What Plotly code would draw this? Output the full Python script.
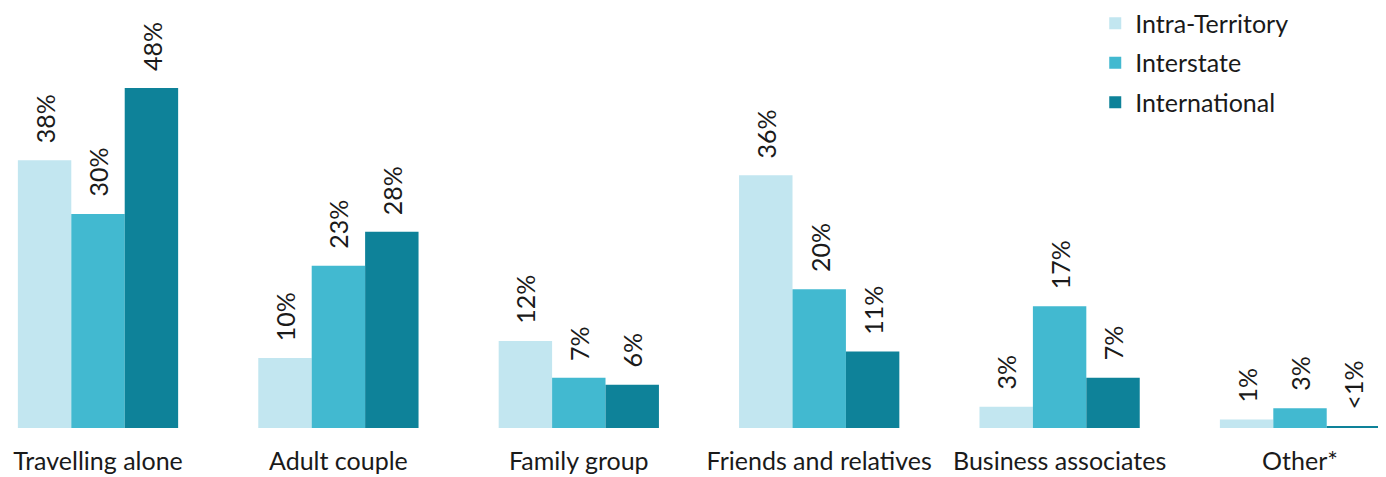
import plotly.graph_objects as go

categories = ["Travelling alone", "Adult couple", "Family group",
              "Friends and relatives", "Business associates", "Other*"]
series_names = ["Intra-Territory", "Interstate", "International"]
intra_values = [37.8, 9.9, 12.3, 35.7, 3.0, 1.2]
interstate_values = [30.2, 22.9, 7.1, 19.6, 17.2, 2.8]
international_values = [48.0, 27.7, 6.1, 10.8, 7.1, 0.2]
intra_labels = ["38%", "10%", "12%", "36%", "3%", "1%"]
interstate_labels = ["30%", "23%", "7%", "20%", "17%", "3%"]
international_labels = ["48%", "28%", "6%", "11%", "7%", "<1%"]

colors = ["#C2E6F0", "#42B9D0", "#0E8299"]
FONT = "Lato, Calibri, Carlito, sans-serif"
FS = 25

fig = go.Figure()
all_values = [intra_values, interstate_values, international_values]
all_labels = [intra_labels, interstate_labels, international_labels]
for j, (name, vals) in enumerate(zip(series_names, all_values)):
    fig.add_trace(go.Bar(
        x=categories, y=vals, name=name, marker_color=colors[j],
        marker_line_width=0, legendgroup=name,
    ))

bargap = 1 / 3
bar_w = (1 - bargap) / 3
for j, labels in enumerate(all_labels):
    for i, (lab, v) in enumerate(zip(labels, all_values[j])):
        fig.add_annotation(
            x=i + (j - 1) * bar_w, y=v, xref="x", yref="y",
            text=lab, textangle=-90, showarrow=False,
            yanchor="bottom", xanchor="center", yshift=15,
            font=dict(family=FONT, size=FS, color="#1a1a1a"),
        )

# page has an 8px body margin, so figure is sized to the visible area
fig.update_layout(
    width=1378, height=469,
    barmode="group", bargap=bargap, bargroupgap=0,
    plot_bgcolor="white", paper_bgcolor="white",
    margin=dict(l=0, r=0, t=0, b=49, autoexpand=False),
    font=dict(family=FONT, size=FS, color="#1a1a1a"),
    showlegend=True,
    legend=dict(x=0.789, y=1.018, xanchor="left", yanchor="top",
                font=dict(family=FONT, size=FS, color="#1a1a1a"),
                tracegroupgap=4, bgcolor="rgba(0,0,0,0)"),
    xaxis=dict(range=[-0.3744, 5.3577], showline=False, showgrid=False,
               ticks="", ticklabelstandoff=16, automargin=False,
               tickfont=dict(family=FONT, size=FS, color="#1a1a1a")),
    yaxis=dict(range=[0, 59.3], visible=False, showgrid=False, zeroline=False,
               automargin=False),
)

fig.write_html("out.html")
